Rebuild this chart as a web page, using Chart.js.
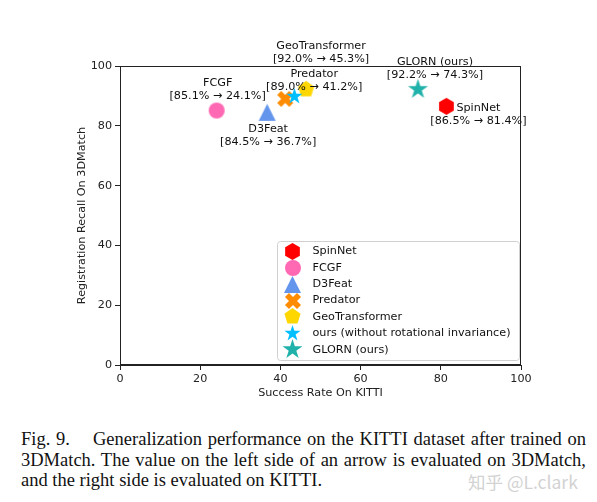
<!DOCTYPE html>
<html>
<head>
<meta charset="utf-8">
<script src="https://cdn.jsdelivr.net/npm/chart.js@4.4.0/dist/chart.umd.min.js"></script>
<style>
  body { margin: 0; background: #fff; width: 597px; height: 502px; overflow: hidden; position: relative; }
  #wrap { position: absolute; left: 0; top: 0; width: 597px; height: 410px; }
  #caption { position: absolute; left: 21px; top: 429px; width: 565px; font-family: "Liberation Serif", "Times New Roman", serif; font-size: 18.5px; line-height: 20.5px; color: #111; }
  #caption .j { text-align: justify; text-align-last: justify; }
  #mark { position: absolute; left: 468px; top: 469px; font-family: "Noto Sans CJK SC", sans-serif; font-size: 17.5px; color: #d2d2d2; }
</style>
</head>
<body>
<div id="wrap"><canvas id="myChart" width="597" height="410"></canvas></div>
<div id="caption">
  <div class="j">Fig. 9.&nbsp;&nbsp;&nbsp; Generalization performance on the KITTI dataset after trained on</div>
  <div class="j">3DMatch. The value on the left side of an arrow is evaluated on 3DMatch,</div>
  <div>and the right side is evaluated on KITTI.</div>
</div>
<div id="mark">知乎 @L.clark</div>
<script>
// data
const methods = ['SpinNet', 'FCGF', 'D3Feat', 'Predator', 'GeoTransformer', 'ours (without rotational invariance)', 'GLORN (ours)'];
const kittiSuccess = [81.4, 24.1, 36.7, 41.2, 46.4, 43.5, 74.3];
const match3dRecall = [86.5, 85.1, 84.5, 89.0, 92.2, 89.8, 92.2];
const scoreLabels = ['[86.5% → 81.4%]', '[85.1% → 24.1%]', '[84.5% → 36.7%]', '[89.0% → 41.2%]', '[92.0% → 45.3%]', null, '[92.2% → 74.3%]'];
const xTicks = [0, 20, 40, 60, 80, 100];
const yTicks = [0, 20, 40, 60, 80, 100];

// styling
const colors = ['#ff0000', '#ff69b4', '#6495ed', '#ff8c00', '#ffd700', '#00bfff', '#20b2aa'];
const shapes = ['hexagon', 'circle', 'triangle', 'x', 'pentagon', 'star', 'star'];
const sizes = [17, 16, 17, 16, 17, 17, 21];
const labelOffsets = [[32, 8], [1, -21], [1, 23], [29, -18], [15, -37], null, [17, -21]];

const FONT = 'DejaVu Sans';
const FSIZE = 11.2;
const INK = '#222';

function polyPath(g, cx, cy, r, n, startDeg) {
    for (let k = 0; k < n; k++) {
        const a = (startDeg + k * 360 / n) * Math.PI / 180;
        const px = cx + r * Math.cos(a), py = cy + r * Math.sin(a);
        if (k === 0) g.moveTo(px, py); else g.lineTo(px, py);
    }
}

function makeMarker(shape, color, size) {
    const c = document.createElement('canvas');
    c.width = c.height = size + 4;
    const g = c.getContext('2d');
    const cx = c.width / 2, cy = c.height / 2, r = size / 2;
    g.fillStyle = color;
    g.beginPath();
    if (shape === 'circle') {
        g.arc(cx, cy, r, 0, Math.PI * 2);
    } else if (shape === 'hexagon') {
        polyPath(g, cx, cy, r, 6, -90);
    } else if (shape === 'pentagon') {
        polyPath(g, cx, cy, r, 5, -90);
    } else if (shape === 'triangle') {
        g.moveTo(cx, cy - r);
        g.lineTo(cx + r, cy + r);
        g.lineTo(cx - r, cy + r);
    } else if (shape === 'star') {
        for (let k = 0; k < 10; k++) {
            const a = (-90 + k * 36) * Math.PI / 180;
            const rr = k % 2 === 0 ? r : r * 0.382;
            const px = cx + rr * Math.cos(a), py = cy + rr * Math.sin(a);
            if (k === 0) g.moveTo(px, py); else g.lineTo(px, py);
        }
    } else if (shape === 'x') {
        const pts = [[-1, -3], [1, -3], [1, -1], [3, -1], [3, 1], [1, 1], [1, 3], [-1, 3], [-1, 1], [-3, 1], [-3, -1], [-1, -1]];
        const k = r / 2.828;
        pts.forEach((p, i) => {
            const px = cx + k * (p[0] - p[1]) / Math.SQRT2;
            const py = cy + k * (p[0] + p[1]) / Math.SQRT2;
            if (i === 0) g.moveTo(px, py); else g.lineTo(px, py);
        });
    }
    g.closePath();
    g.fill();
    return c;
}

const markers = methods.map((m, i) => makeMarker(shapes[i], colors[i], sizes[i]));

const datasets = methods.map((m, i) => ({
    label: m,
    data: [{ x: kittiSuccess[i], y: match3dRecall[i] }],
    pointStyle: markers[i],
    backgroundColor: colors[i],
    borderColor: colors[i],
    order: -i
}));

// top/right spines
const framePlugin = {
    id: 'frame',
    afterDraw(chart) {
        const { ctx, chartArea: a } = chart;
        ctx.save();
        ctx.strokeStyle = INK;
        ctx.lineWidth = 1;
        ctx.strokeRect(a.left + 0.5, a.top + 0.5, a.right - a.left - 1, a.bottom - a.top - 1);
        ctx.restore();
    }
};

// two-line annotations next to the markers
const labelPlugin = {
    id: 'pointLabels',
    afterDatasetsDraw(chart) {
        const { ctx } = chart;
        ctx.save();
        ctx.font = FSIZE + 'px "' + FONT + '"';
        ctx.fillStyle = '#111';
        ctx.textAlign = 'center';
        ctx.textBaseline = 'middle';
        chart.data.datasets.forEach((ds, i) => {
            if (!scoreLabels[i]) return;
            const pt = chart.getDatasetMeta(i).data[0];
            const [dx, dy] = labelOffsets[i];
            ctx.fillText(ds.label, pt.x + dx, pt.y + dy - 6.5);
            ctx.fillText(scoreLabels[i], pt.x + dx, pt.y + dy + 6.5);
        });
        ctx.restore();
    }
};

// matplotlib style legend at the lower right of the axes
const legendPlugin = {
    id: 'boxLegend',
    afterDraw(chart) {
        const { ctx, chartArea: a } = chart;
        const w = 242, h = 119;
        const x0 = a.right - w - 1.5, y0 = a.bottom - h - 4.5;
        ctx.save();
        ctx.fillStyle = 'rgba(255,255,255,0.8)';
        ctx.strokeStyle = '#d0d0d0';
        ctx.lineWidth = 1;
        ctx.beginPath();
        ctx.roundRect(x0, y0, w, h, 3);
        ctx.fill();
        ctx.stroke();
        ctx.font = FSIZE + 'px "' + FONT + '"';
        ctx.fillStyle = '#111';
        ctx.textAlign = 'left';
        ctx.textBaseline = 'middle';
        chart.data.datasets.forEach((ds, i) => {
            const cy = y0 + 10 + i * 16.35;
            const img = ds.pointStyle;
            ctx.drawImage(img, Math.round(x0 + 15 - img.width / 2), Math.round(cy - img.height / 2));
            ctx.fillText(ds.label, x0 + 35, cy);
        });
        ctx.restore();
    }
};

const ctx = document.getElementById('myChart').getContext('2d');
const myChart = new Chart(ctx, {
    type: 'scatter',
    data: { datasets: datasets },
    options: {
        responsive: false,
        animation: false,
        layout: { padding: { left: 68, right: 76, top: 66, bottom: 0 } },
        plugins: {
            legend: { display: false },
            tooltip: { enabled: false }
        },
        scales: {
            x: {
                type: 'linear',
                min: 0,
                max: 100,
                afterBuildTicks: s => { s.ticks = xTicks.map(v => ({ value: v })); },
                afterFit: s => { s.height = 45; },
                ticks: { color: INK, padding: 2, font: { family: FONT, size: FSIZE } },
                grid: { drawOnChartArea: false, drawTicks: true, tickLength: 5, color: INK },
                border: { display: true, color: INK },
                title: { display: true, text: 'Success Rate On KITTI', color: INK, font: { family: FONT, size: FSIZE }, padding: { top: 0, bottom: 10 } }
            },
            y: {
                type: 'linear',
                min: 0,
                max: 100,
                afterBuildTicks: s => { s.ticks = yTicks.map(v => ({ value: v })); },
                afterFit: s => { s.width = 52; },
                ticks: { color: INK, padding: 3, font: { family: FONT, size: FSIZE } },
                grid: { drawOnChartArea: false, drawTicks: true, tickLength: 5, color: INK },
                border: { display: true, color: INK },
                title: { display: true, text: 'Registration Recall On 3DMatch', color: INK, font: { family: FONT, size: FSIZE }, padding: { top: 7, bottom: 0 } }
            }
        }
    },
    plugins: [framePlugin, labelPlugin, legendPlugin]
});
</script>
</body>
</html>
